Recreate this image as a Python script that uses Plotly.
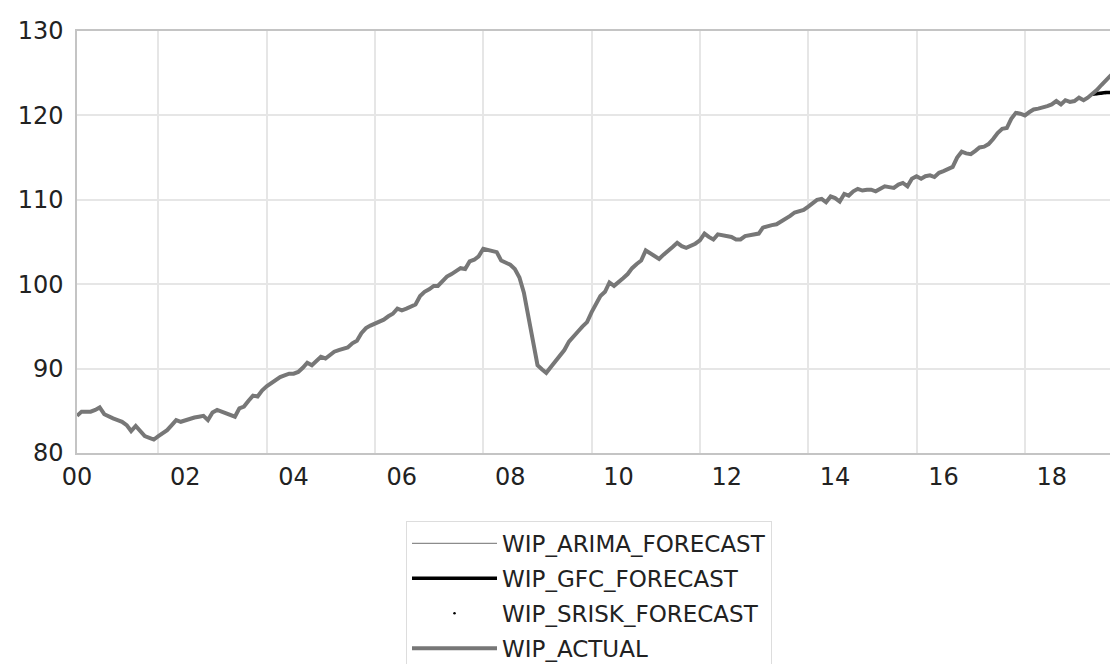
import pandas as pd
import plotly.graph_objects as go

# ---- data (monthly, starting July 2000) ----
start_month = "2000-07-01"
wip_actual = [
    84.4, 84.9, 84.9, 84.9, 85.1, 85.4, 84.6, 84.3, 84.1, 83.9, 83.7, 83.3,
    82.6, 83.2, 82.5, 82.0, 81.8, 81.6, 82.0, 82.3, 82.7, 83.3, 83.9, 83.7,
    83.9, 84.1, 84.2, 84.3, 84.4, 83.9, 84.8, 85.1, 84.9, 84.7, 84.4, 84.3,
    85.3, 85.5, 86.2, 86.8, 86.7, 87.4, 87.9, 88.3, 88.7, 89.0, 89.2, 89.4,
    89.4, 89.6, 90.1, 90.7, 90.4, 90.9, 91.4, 91.2, 91.6, 92.0, 92.2, 92.4,
    92.5, 93.0, 93.3, 94.2, 94.8, 95.1, 95.3, 95.5, 95.8, 96.2, 96.5, 97.1,
    96.9, 97.1, 97.4, 97.6, 98.6, 99.1, 99.4, 99.8, 99.8, 100.3, 100.9, 101.2,
    101.6, 101.9, 101.8, 102.7, 102.9, 103.3, 104.2, 104.1, 103.9, 103.8, 102.8, 102.6,
    102.3, 101.8, 100.8, 99.0, 96.0, 93.2, 90.4, 89.9, 89.5, 90.2, 90.9, 91.6,
    92.2, 93.2, 93.9, 94.4, 95.0, 95.5, 96.7, 97.8, 98.6, 99.1, 100.2, 99.8,
    100.2, 100.7, 101.2, 101.9, 102.4, 102.8, 104.0, 103.7, 103.4, 103.0, 103.5, 103.9,
    104.4, 104.9, 104.5, 104.3, 104.5, 104.8, 105.2, 106.0, 105.6, 105.3, 105.9, 105.8,
    105.8, 105.6, 105.3, 105.3, 105.7, 105.8, 105.9, 106.0, 106.7, 106.9, 107.0, 107.1,
    107.4, 107.8, 108.1, 108.5, 108.7, 108.8, 109.2, 109.6, 110.0, 110.1, 109.7, 110.4,
    110.2, 109.8, 110.7, 110.5, 111.0, 111.3, 111.1, 111.2, 111.2, 111.0, 111.3, 111.6,
    111.5, 111.4, 111.8, 112.0, 111.6, 112.5, 112.8, 112.5, 112.8, 112.9, 112.7, 113.2,
    113.4, 113.6, 113.9, 115.0, 115.7, 115.5, 115.4, 115.8, 116.2, 116.3, 116.6, 117.2,
    117.9, 118.4, 118.5, 119.6, 120.3, 120.2, 120.0, 120.4, 120.7, 120.8, 120.9, 121.1,
    121.3, 121.7, 121.3, 121.8, 121.6, 121.7, 122.1, 121.8, 122.1, 122.5, 123.0, 123.6,
    124.2, 124.7, 125.1, 125.5,
]
forecast_start = "2019-04-01"
wip_arima_forecast = [122.5, 122.6, 122.7, 122.7, 122.8, 122.8, 122.9]
wip_gfc_forecast = [122.5, 122.6, 122.6, 122.7, 122.7, 122.8, 122.8]
wip_srisk_forecast = [122.5, 122.55, 122.6, 122.65, 122.7, 122.75, 122.8]

label_years = list(range(2000, 2019, 2))
tick_text = ["%02d" % (y % 100) for y in label_years]
grid_years = list(range(2002, 2019, 2))
y_ticks = [80, 90, 100, 110, 120, 130]

# ---- build ----
dates = pd.date_range(start_month, periods=len(wip_actual), freq="MS")
fdates = pd.date_range(forecast_start, periods=len(wip_arima_forecast), freq="MS")

FONT = "DejaVu Sans"
# page body has an 8px margin, so the figure is laid out 8px smaller
W, H = 1110, 656
ML, MT, PLOT_W, PLOT_H = 69, 23, 1041, 422
MB = H - MT - PLOT_H

fig = go.Figure()
fig.add_trace(go.Scatter(x=fdates, y=wip_arima_forecast, mode="lines",
                         name="WIP_ARIMA_FORECAST", legendgroup="a",
                         line=dict(color="#8c8c8c", width=1.3)))
fig.add_trace(go.Scatter(x=fdates, y=wip_gfc_forecast, mode="lines",
                         name="WIP_GFC_FORECAST", legendgroup="b",
                         line=dict(color="#000000", width=3.5)))
fig.add_trace(go.Scatter(x=fdates, y=wip_srisk_forecast, mode="markers",
                         name="WIP_SRISK_FORECAST", legendgroup="c",
                         marker=dict(color="#000000", size=2.5)))
fig.add_trace(go.Scatter(x=dates, y=wip_actual, mode="lines",
                         name="WIP_ACTUAL", legendgroup="d",
                         line=dict(color="#777777", width=4)))

fig.update_layout(
    width=W, height=H,
    margin=dict(l=ML, r=0, t=MT, b=MB, autoexpand=False),
    paper_bgcolor="white", plot_bgcolor="white",
    font=dict(family=FONT, size=24, color="#222222"),
    showlegend=True,
    legend=dict(
        x=(398 - ML) / PLOT_W, xanchor="left",
        y=(MT + PLOT_H - 513) / PLOT_H, yanchor="top",
        bordercolor="#dddddd", borderwidth=1, bgcolor="white",
        font=dict(family=FONT, size=23, color="#222222"),
        traceorder="grouped", tracegroupgap=2, itemwidth=85,
    ),
)
fig.update_xaxes(
    type="date", automargin=False,
    range=["2000-07-01", "2019-09-21"],
    tickmode="array",
    tickvals=["%d-07-01" % y for y in label_years],
    ticktext=tick_text,
    showgrid=False,
    showline=True, linecolor="#c4c4c4", linewidth=1.5, mirror=True,
    ticks="outside", ticklen=1, tickcolor="rgba(0,0,0,0)",
    zeroline=False,
    minor=dict(tickmode="array", tickvals=["%d-01-01" % y for y in grid_years],
               showgrid=True, gridcolor="#e6e6e6", gridwidth=1.5, ticks=""),
)
fig.update_yaxes(
    automargin=False,
    range=[80, 130],
    tickmode="array", tickvals=y_ticks,
    showgrid=True, gridcolor="#e6e6e6", gridwidth=1.5,
    showline=True, linecolor="#c4c4c4", linewidth=1.5, mirror=False,
    ticks="outside", ticklen=7, tickcolor="rgba(0,0,0,0)",
    zeroline=False,
)
fig.write_html("out.html")
